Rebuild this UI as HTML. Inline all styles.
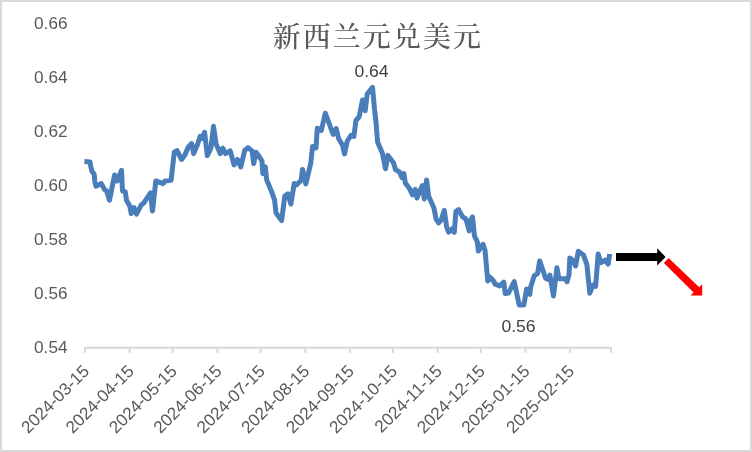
<!DOCTYPE html>
<html lang="zh-CN">
<head>
<meta charset="utf-8">
<title>新西兰元兑美元</title>
<style>
html,body{margin:0;padding:0;background:#fff;}
body{width:752px;height:452px;overflow:hidden;}
svg{display:block;}
.ax{font-family:"Liberation Sans",sans-serif;font-size:17.2px;fill:#595959;}
.dl{font-family:"Liberation Sans",sans-serif;font-size:17.1px;fill:#404040;}
.title{font-family:"Liberation Serif","Noto Serif CJK SC",serif;font-size:28px;font-weight:500;fill:#595959;letter-spacing:2.05px;}
</style>
</head>
<body>
<svg width="752" height="452" viewBox="0 0 752 452">
<rect x="0" y="0" width="752" height="452" fill="#ffffff"/>
<rect x="1" y="1" width="750" height="450" fill="none" stroke="#d9d9d9" stroke-width="2"/>
<text class="title" x="377.9" y="47" text-anchor="middle">新西兰元兑美元</text>
<text class="ax" x="67.5" y="28.9" text-anchor="end">0.66</text>
<text class="ax" x="67.5" y="82.9" text-anchor="end">0.64</text>
<text class="ax" x="67.5" y="137.0" text-anchor="end">0.62</text>
<text class="ax" x="67.5" y="191.0" text-anchor="end">0.60</text>
<text class="ax" x="67.5" y="245.0" text-anchor="end">0.58</text>
<text class="ax" x="67.5" y="299.0" text-anchor="end">0.56</text>
<text class="ax" x="67.5" y="353.1" text-anchor="end">0.54</text>
<path d="M84 347.7H612" stroke="#d8d8d8" stroke-width="2" fill="none"/>
<path d="M85.0 347.7V352.8M129.6 347.7V352.8M172.8 347.7V352.8M217.4 347.7V352.8M260.6 347.7V352.8M305.2 347.7V352.8M349.8 347.7V352.8M393.0 347.7V352.8M437.6 347.7V352.8M480.8 347.7V352.8M525.4 347.7V352.8M570.0 347.7V352.8M611.0 347.7V352.8" stroke="#d8d8d8" stroke-width="2" fill="none"/>
<text class="ax" text-anchor="end" transform="translate(90.3,372.2) rotate(-45)" x="0" y="0">2024-03-15</text>
<text class="ax" text-anchor="end" transform="translate(134.9,372.2) rotate(-45)" x="0" y="0">2024-04-15</text>
<text class="ax" text-anchor="end" transform="translate(178.1,372.2) rotate(-45)" x="0" y="0">2024-05-15</text>
<text class="ax" text-anchor="end" transform="translate(222.7,372.2) rotate(-45)" x="0" y="0">2024-06-15</text>
<text class="ax" text-anchor="end" transform="translate(265.9,372.2) rotate(-45)" x="0" y="0">2024-07-15</text>
<text class="ax" text-anchor="end" transform="translate(310.5,372.2) rotate(-45)" x="0" y="0">2024-08-15</text>
<text class="ax" text-anchor="end" transform="translate(355.1,372.2) rotate(-45)" x="0" y="0">2024-09-15</text>
<text class="ax" text-anchor="end" transform="translate(398.3,372.2) rotate(-45)" x="0" y="0">2024-10-15</text>
<text class="ax" text-anchor="end" transform="translate(442.9,372.2) rotate(-45)" x="0" y="0">2024-11-15</text>
<text class="ax" text-anchor="end" transform="translate(486.1,372.2) rotate(-45)" x="0" y="0">2024-12-15</text>
<text class="ax" text-anchor="end" transform="translate(530.7,372.2) rotate(-45)" x="0" y="0">2025-01-15</text>
<text class="ax" text-anchor="end" transform="translate(575.3,372.2) rotate(-45)" x="0" y="0">2025-02-15</text>
<polyline points="84.4,161.4 90.0,161.9 90.8,166.5 92,171.5 94.2,174.2 94.8,181.5 96,186.2 101.3,183.6 104.6,189.6 106.6,190.9 109.5,200.2 114.6,175 117.2,181 121.5,170.3 122.5,191 125.2,191.6 126.5,200.2 129.9,206.2 131.2,213.5 133.9,207.5 136.5,214.2 141.2,204.9 143.8,202.9 150.5,192.9 152.5,210.9 155.8,180.9 163.1,183.6 165.1,180.9 171.1,180.3 174.3,152.2 177,150.6 181.6,159.5 184.9,154.9 188.3,146.9 191.6,143.6 193.6,153.6 197.6,144.3 200.2,136.3 202.2,138.3 204.6,132.3 207.3,155.6 210.9,148.2 213.5,126.3 216.2,144.3 220.2,153.6 222.8,148.2 225.5,153.6 230.2,150.9 234.1,164.9 237.5,159.5 240.8,166.9 244.8,150.2 248.1,147.6 252.1,150.9 253.7,163.6 256,152.3 258.6,155.6 262,161 262.8,173.6 265.3,166.9 266.6,179.6 271.5,191.5 274.6,200.1 275.9,212.6 278.6,216.6 281.6,220.6 284.8,196 287.9,193.8 290.9,204 294.2,183.5 296.5,184.9 301.2,180.2 302.5,169.4 305.8,184 310.8,163 312.6,146.6 316,147.9 317.3,128.2 321.3,130.5 325.3,113.2 333.2,134.5 336.2,128.5 338.6,138.5 342.6,145.3 344.5,153.9 347.2,141.3 351,135.2 353.9,136.5 355.9,120.6 359.2,116.6 362.5,100 365.2,110.6 367.2,94 372.5,87.3 374.5,109.3 376,122 377.6,142 382.4,153.2 385.5,168.7 387.9,155.4 393.5,162.8 395.5,169.7 399.5,172 401.9,177.6 403.9,173.6 405.3,182.9 409.3,188.2 412.5,194.8 415.3,189.4 417,198.1 419.6,191.5 422.4,185.5 424.3,199 426.6,180 428.6,196 434,208.3 436,218.9 438.6,222.9 441.3,219.6 444.3,210.3 446.6,226.9 448.6,232.2 451.9,228.9 454.3,232.2 455.9,211.6 458.6,209.6 462.6,216.9 465.9,218.9 469.2,230.9 470.3,221.6 472.5,216.9 474.5,236.2 477.4,242 478.3,251 483,244.3 485,250.3 487.8,281 489.8,276.9 493.8,281.2 495.1,284.2 499.8,285.9 503.8,282.2 505.2,293.5 508.6,293 514.2,281.5 519.2,304.9 523.9,304.9 526.6,289 529.9,294.3 530.5,287.6 534.3,275.6 537.6,273.6 539.7,260.9 545.6,278.2 547.6,279.2 549.9,275.2 553.5,296 556.9,267.7 559,278.8 565.4,278.8 567,281.8 569,274.6 569.8,258 572.3,260 575.6,266 578.3,251.3 583.6,255.3 586.9,264.6 589.8,293.2 592.9,285.2 595.6,286.5 598.2,254 600.9,262.6 605.5,260 608.2,264 609.7,254" fill="none" stroke="#4a7ebb" stroke-width="5" stroke-linejoin="round" stroke-linecap="butt"/>
<text class="dl" transform="translate(371.5,76.9) scale(1.03,1)" text-anchor="middle">0.64</text>
<text class="dl" transform="translate(518.5,331.9) scale(1.03,1)" text-anchor="middle">0.56</text>
<path d="M616 253H657.2V248.3L665.6 257L657.2 265.6V261H616Z" fill="#000000"/>
<path d="M668.6 258L699.2 287.2L702.2 284.2V295.5H690.5L693.6 292.4L663.9 263Z" fill="#ff0000"/>
</svg>
</body>
</html>
